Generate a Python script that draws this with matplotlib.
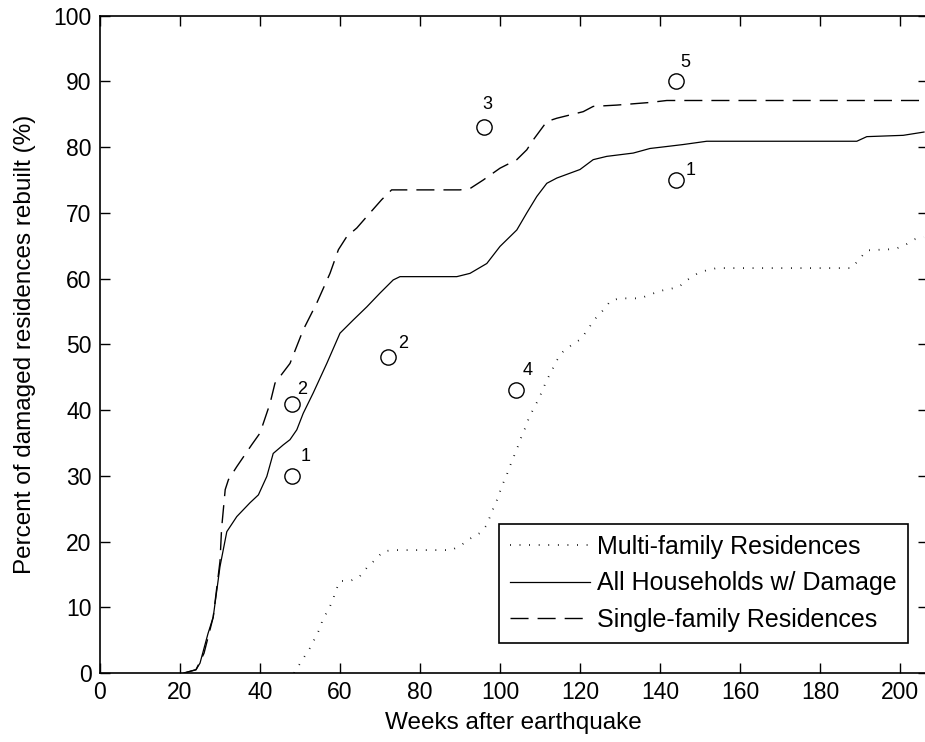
import matplotlib
matplotlib.use("Agg")
import matplotlib.pyplot as plt

plt.rcParams['font.family'] = ['Liberation Sans', 'DejaVu Sans']
plt.rcParams['lines.scale_dashes'] = False

# Cumulative share of damaged residences rebuilt, by weeks after the earthquake
all_weeks = [21, 24, 25, 27, 28.3, 30, 31.7, 34.2, 37.5, 39.6, 41.7, 43.3, 45.8, 47.5,
             49.2, 50.8, 53.3, 56.7, 60, 63.3, 66.7, 70, 73.3, 75, 89.2, 92.5, 96.7,
             100, 104.2, 106.7, 109.2, 111.7, 114.2, 120, 123.3, 126.7, 133.3, 137.5,
             141.7, 145.8, 151.7, 189.2, 191.7, 200.8, 206]
all_pct = [0, 0.5, 1.5, 6, 8.5, 16.2, 21.5, 23.8, 25.9, 27.1, 29.9, 33.4, 34.7, 35.5,
           37, 39.5, 42.6, 47.1, 51.7, 53.7, 55.7, 57.8, 59.8, 60.3, 60.3, 60.8, 62.3,
           64.9, 67.4, 70, 72.5, 74.5, 75.3, 76.6, 78.1, 78.6, 79.1, 79.8,
           80.1, 80.4, 80.9, 80.9, 81.6, 81.8, 82.3]

single_weeks = [21, 24, 26, 28.3, 30, 30.4, 31.3, 32.1, 34.2, 37.9, 40, 42.5, 43.75, 45,
                47.5, 50.8, 54.2, 57.5, 59.6, 61.7, 64.2, 67.5, 70.4, 72.9, 90, 92.5,
                95.8, 100, 104.2, 106.7, 108.3, 111.7, 114.2, 120.8, 123.3, 129.2,
                137.5, 141.7, 206]
single_pct = [0, 0.5, 3, 8.5, 17, 22, 27.9, 29.4, 31.4, 34.7, 36.5, 41, 44.1, 45.1,
              47.1, 52.2, 56.3, 60.8, 64.4, 66.4, 67.7, 70, 72, 73.5, 73.5, 73.7,
              75, 76.8, 78.1, 79.6, 81.1, 83.9, 84.4, 85.4, 86.2, 86.4,
              86.8, 87.1, 87.1]

multi_weeks = [48.5, 50.8, 52.5, 53.75, 55, 55.7, 57.1, 58.2, 59, 60, 62.5, 64.8, 66.7,
               68.75, 70.8, 73.3, 87.9, 90.4, 92.7, 95, 96.7, 97.5, 98.5, 99.6, 100.4,
               101.5, 102.3, 103.3, 104.3, 105.2, 106.25, 107.1, 108.2, 109.6, 110.7,
               111.7, 112.9, 114, 115.8, 117.9, 120.2, 122, 123.5, 125.8, 127.75,
               130.2, 135, 137.3, 139.8, 144.6, 147.1, 149.4, 151.8, 154.2, 187.9,
               189.75, 191.7, 198.75, 201.25, 203.75, 206]
multi_pct = [0, 2.2, 3.8, 5.3, 6.8, 8.2, 9.6, 11.1, 12.6, 14, 14, 14.6, 16,
             17.2, 18.5, 18.7, 18.7, 19.5, 20.5, 21.3, 22.5, 23.8, 25.3, 26.8, 28.4,
             29.8, 31.2, 32.7, 34.2, 35.7, 37.2, 38.6, 40, 41.6, 43.1,
             44.6, 45.9, 47.4, 48.9, 49.9, 50.8, 52.3, 53.7, 55.2, 56.7,
             57, 57, 57.5, 58.1, 58.7, 59.9, 60.8, 61.3, 61.6, 61.6,
             62.9, 64.3, 64.5, 65.1, 66, 66.3]

# Comparison cases from other earthquakes
case_weeks = [48, 48, 72, 96, 104, 144, 144]
case_pct = [30, 41, 48, 83, 43, 90, 75]
case_labels = ['1', '2', '2', '3', '4', '5', '1']
label_weeks = [51.3, 50.6, 75.8, 96.8, 107.0, 146.3, 147.6]
label_pct = [33.0, 43.2, 50.2, 86.5, 46.0, 92.9, 76.4]

x_ticks = list(range(0, 201, 20))
y_ticks = list(range(0, 101, 10))

W, H = 925, 742
fig = plt.figure(figsize=(W / 100, H / 100), dpi=100)
x_max = 207
ax_left, ax_bottom_px, ax_top_px = 100, 673, 15.7
px_per_week = 4.0
ax_w_px = x_max * px_per_week
ax_h_px = ax_bottom_px - ax_top_px
ax = fig.add_axes([ax_left / W, (H - ax_bottom_px) / H, ax_w_px / W, ax_h_px / H])

ax.plot(multi_weeks, multi_pct, color='black', lw=1.3,
        linestyle=(0, (0.6, 6.3)), label='Multi-family Residences')
ax.plot(all_weeks, all_pct, color='black', lw=0.9,
        linestyle='-', label='All Households w/ Damage')
ax.plot(single_weeks, single_pct, color='black', lw=1.0,
        linestyle=(0, (13, 6.5)), label='Single-family Residences')

ax.plot(case_weeks, case_pct, linestyle='none', marker='o', markersize=11,
        markerfacecolor='none', markeredgecolor='black', markeredgewidth=1.0)
for lx, ly, t in zip(label_weeks, label_pct, case_labels):
    ax.text(lx, ly, t, fontsize=13, ha='center', va='center')

ax.set_xlim(0, x_max)
ax.set_ylim(0, 100)
ax.set_xticks(x_ticks)
ax.set_yticks(y_ticks)
ax.tick_params(direction='in', length=7, width=1.0, labelsize=16.5,
               top=True, right=True, pad=6)
for s in ax.spines.values():
    s.set_linewidth(1.2)

ax.set_xlabel('Weeks after earthquake', fontsize=17.5)
ax.set_ylabel('Percent of damaged residences rebuilt (%)', fontsize=17.5)
ax.xaxis.set_label_coords(413 / ax_w_px, -0.059)
ax.yaxis.set_label_coords(-0.077, 0.5)

leg = ax.legend(loc='lower left',
                bbox_to_anchor=((499 - ax_left) / ax_w_px,
                                (ax_bottom_px - 643) / ax_h_px),
                fontsize=18, frameon=True, fancybox=False, framealpha=1,
                edgecolor='black', handlelength=3.2, handletextpad=0.28,
                borderpad=0.45, labelspacing=0.5, borderaxespad=0)
leg.get_frame().set_linewidth(1.2)

fig.savefig('out.png', dpi=100)
